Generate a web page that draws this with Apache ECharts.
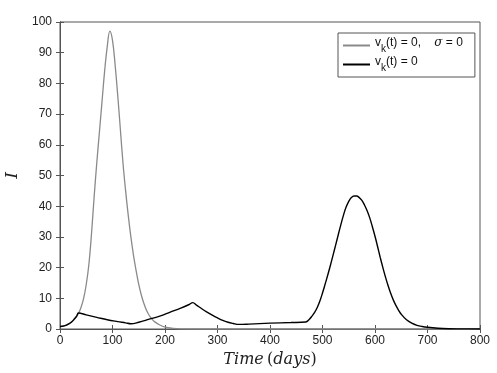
<!DOCTYPE html>
<html>
<head>
<meta charset="utf-8">
<script src="https://cdn.jsdelivr.net/npm/echarts@6/dist/echarts.min.js"></script>
<style>
  html, body { margin: 0; padding: 0; background: #fff; }
  #chart { width: 497px; height: 373px; }
</style>
</head>
<body>
<div id="chart"></div>
<script>
// gray curve: v_k(t) = 0, sigma = 0
var grayDays = [0, 10, 20, 30, 35, 40, 45, 50, 55, 60, 65, 70, 75, 80, 85, 90, 95, 100, 105, 110, 115, 120, 125, 130, 135, 140, 145, 150, 155, 160, 165, 170, 175, 180, 190, 200, 215, 230, 260, 800]
var grayI = [0.8, 1.2, 2.0, 3.7, 5.0, 7.0, 10.0, 14.5, 21, 31, 43, 54, 64, 74, 84, 92, 97, 94, 86, 76, 65, 54, 45, 37, 30, 24, 19, 14.5, 11, 8.2, 6.0, 4.4, 3.3, 2.4, 1.3, 0.6, 0.2, 0.05, 0, 0]

// black curve: v_k(t) = 0
var blackDays = [0, 8, 15, 22, 28, 32, 35, 50, 70, 90, 110, 125, 135, 150, 170, 190, 210, 230, 245, 253, 260, 270, 280, 290, 300, 310, 320, 330, 340, 360, 400, 440, 468, 475, 480, 485, 490, 495, 500, 505, 510, 515, 520, 525, 530, 535, 540, 545, 550, 555, 560, 565, 570, 575, 580, 585, 590, 595, 600, 605, 610, 615, 620, 625, 630, 635, 640, 645, 650, 660, 670, 680, 690, 700, 720, 740, 760, 800]
var blackI = [0.8, 1.0, 1.5, 2.3, 3.4, 4.3, 5.2, 4.6, 3.8, 3.0, 2.4, 2.0, 1.7, 2.2, 3.2, 4.2, 5.5, 6.8, 7.9, 8.6, 7.8, 6.6, 5.5, 4.5, 3.6, 2.8, 2.2, 1.8, 1.5, 1.6, 1.9, 2.1, 2.3, 3.2, 4.2, 5.4, 7.0, 9.1, 11.7, 14.6, 17.6, 20.7, 24, 27.3, 30.7, 34.0, 37.1, 39.7, 41.6, 42.8, 43.3, 43.3, 42.8, 41.9, 40.4, 38.5, 36.2, 33.3, 30.2, 26.8, 23.3, 20, 16.9, 14.1, 11.6, 9.4, 7.6, 6.1, 4.8, 3.0, 1.9, 1.2, 0.8, 0.55, 0.25, 0.1, 0.05, 0.02]

var xTicks = { min: 0, max: 800, interval: 100 }
var yTicks = { min: 0, max: 100, interval: 10 }

function pairs (xs, ys) {
  return xs.map(function (x, i) { return [x, ys[i]] })
}

var chart = echarts.init(document.getElementById('chart'))

var axisColor = '#555'
var sans = 'Liberation Sans, Arial, sans-serif'
var labelFont = { color: '#222', fontSize: 12, fontFamily: sans }

var options = {
  animation: false,
  grid: {
    left: 60,
    right: 17,
    top: 22,
    bottom: 44,
    containLabel: false,
    outerBoundsMode: 'none',
    show: true,
    borderColor: axisColor,
    borderWidth: 1
  },
  legend: {
    orient: 'vertical',
    left: 338,
    top: 33,
    width: 138,
    padding: [4, 12, 4, 5],
    itemGap: 2,
    itemWidth: 27,
    itemHeight: 2,
    icon: 'rect',
    borderColor: axisColor,
    borderWidth: 1,
    backgroundColor: '#fff',
    data: ['gray', 'black'],
    formatter: function (name) {
      if (name === 'gray') {
        return '{n|v}{s|k}{n|(t) = 0,    }{g|σ}{n| = 0}'
      }
      return '{n|v}{s|k}{n|(t) = 0}'
    },
    textStyle: {
      color: '#111',
      fontSize: 12,
      fontFamily: sans,
      rich: {
        n: { fontSize: 12, fontFamily: sans, color: '#111', lineHeight: 17, verticalAlign: 'top' },
        s: { fontSize: 10, fontFamily: sans, color: '#111', lineHeight: 10, verticalAlign: 'bottom' },
        g: { fontSize: 12, fontFamily: 'DejaVu Serif, serif', fontStyle: 'italic', color: '#111', lineHeight: 17, verticalAlign: 'top' }
      }
    }
  },
  xAxis: [
    {
      type: 'value',
      min: xTicks.min,
      max: xTicks.max,
      interval: xTicks.interval,
      position: 'bottom',
      name: '{i|Time} {u|(}{i|days}{u|)}',
      nameLocation: 'middle',
      nameGap: 19,
      nameTextStyle: {
        rich: {
          i: { fontFamily: 'DejaVu Serif, serif', fontStyle: 'italic', fontSize: 16, color: '#222' },
          u: { fontFamily: 'DejaVu Serif, serif', fontSize: 16, color: '#222' }
        }
      },
      axisLine: { lineStyle: { color: axisColor } },
      axisTick: { inside: true, length: 4, lineStyle: { color: axisColor } },
      axisLabel: Object.assign({ margin: 6 }, labelFont),
      splitLine: { show: false }
    },
    {
      type: 'value',
      min: xTicks.min,
      max: xTicks.max,
      interval: xTicks.interval,
      position: 'top',
      axisLine: { lineStyle: { color: axisColor } },
      axisTick: { inside: true, length: 4, lineStyle: { color: axisColor } },
      axisLabel: { show: false },
      splitLine: { show: false }
    }
  ],
  yAxis: [
    {
      type: 'value',
      min: yTicks.min,
      max: yTicks.max,
      interval: yTicks.interval,
      position: 'left',
      name: 'I',
      nameLocation: 'middle',
      nameGap: 34,
      nameTextStyle: { fontFamily: 'DejaVu Serif, serif', fontStyle: 'italic', fontSize: 17, color: '#222' },
      axisLine: { lineStyle: { color: axisColor } },
      axisTick: { inside: true, length: 4, lineStyle: { color: axisColor } },
      axisLabel: Object.assign({ margin: 8 }, labelFont),
      splitLine: { show: false }
    },
    {
      type: 'value',
      min: yTicks.min,
      max: yTicks.max,
      interval: yTicks.interval,
      position: 'right',
      axisLine: { lineStyle: { color: axisColor } },
      axisTick: { inside: true, length: 4, lineStyle: { color: axisColor } },
      axisLabel: { show: false },
      splitLine: { show: false }
    }
  ],
  series: [
    {
      name: 'gray',
      type: 'line',
      symbol: 'none',
      smooth: 0.4,
      color: '#8a8a8a',
      lineStyle: { width: 1.3, color: '#8a8a8a' },
      data: pairs(grayDays, grayI)
    },
    {
      name: 'black',
      type: 'line',
      symbol: 'none',
      smooth: 0.4,
      color: '#000',
      lineStyle: { width: 1.4, color: '#000' },
      data: pairs(blackDays, blackI)
    }
  ]
}

chart.setOption(options)
</script>
</body>
</html>
